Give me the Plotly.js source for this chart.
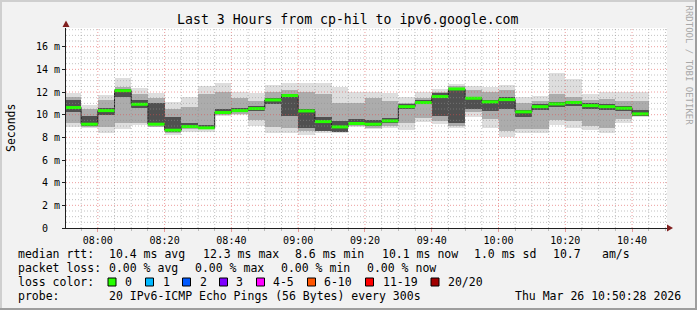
<!DOCTYPE html>
<html><head><meta charset="utf-8">
<script src="https://cdn.plot.ly/plotly-3.0.1.min.js"></script>
<style>html,body{margin:0;padding:0;background:#f2f2f2;} #chart{width:697px;height:310px;}</style>
</head><body><div id="chart"></div>
<script>
// ---- data ----
const binEnds = ['07:55','08:00','08:05','08:10','08:15','08:20','08:25','08:30','08:35','08:40','08:45','08:50',
  '08:55','09:00','09:05','09:10','09:15','09:20','09:25','09:30','09:35','09:40','09:45','09:50',
  '09:55','10:00','10:05','10:10','10:15','10:20','10:25','10:30','10:35','10:40','10:45'];
const median = [10.63,9.16,10.36,12.12,10.92,9.16,8.63,8.95,8.84,10.19,10.36,10.54,11.30,11.69,10.33,9.39,8.92,9.22,
  9.16,9.45,10.71,11.07,11.60,12.27,11.45,11.13,11.33,10.25,10.71,10.95,11.07,10.80,10.71,10.57,10.07];
const smokeMin = [8.87,8.81,8.42,8.75,9.10,8.87,8.22,8.51,8.51,9.90,9.95,9.04,8.37,8.37,8.22,8.37,8.37,8.95,
  8.75,8.81,8.66,9.39,9.16,8.81,9.80,8.81,8.02,8.37,8.37,9.10,8.81,8.66,8.37,9.30,9.78];
const smokeMax = [11.95,10.86,11.74,13.27,12.39,11.89,11.15,11.60,12.54,12.77,12.04,11.95,12.63,12.83,12.83,12.83,12.48,11.98,
  11.98,11.89,11.54,11.98,12.27,12.68,12.54,12.42,12.63,11.54,11.66,13.66,13.13,11.80,11.98,11.98,11.98];
const midLo = [9.3,8.9,8.9,9.3,9.3,8.95,8.4,8.7,8.7,10.0,10.1,9.5,8.9,8.8,8.6,8.6,8.5,9.0,
  8.85,9.0,9.3,9.7,9.4,9.0,10.2,9.6,8.6,8.7,8.7,9.5,9.4,9.0,8.8,9.6,9.9];
const midHi = [11.6,10.5,11.3,12.4,11.8,11.5,10.5,10.7,11.8,12.0,11.5,11.2,12.0,12.2,12.0,11.8,11.0,11.0,
  11.5,11.2,11.0,11.5,12.0,12.5,12.2,12.0,12.2,11.0,11.2,11.8,11.6,11.3,11.4,11.2,11.2];
const coreLo = [10.2,9.0,10.0,11.6,10.6,9.1,8.5,8.8,8.75,10.1,10.2,10.3,10.9,9.9,8.8,8.6,8.5,9.1,
  9.0,9.3,10.5,10.9,9.9,9.3,10.5,10.3,10.5,9.8,10.4,10.7,10.8,10.5,10.4,10.3,9.9];
const coreHi = [11.3,9.9,10.6,12.3,11.3,11.0,9.8,9.3,9.1,10.5,10.6,10.8,11.5,11.8,10.5,9.8,9.4,9.6,
  9.5,9.7,10.9,11.3,11.9,12.3,11.6,11.3,11.6,10.4,10.9,11.1,11.2,11.0,10.9,10.8,10.4];
const yTickVals = [0,2,4,6,8,10,12,14,16];
const yTickText = ['0\u00a0\u00a0','2 m','4 m','6 m','8 m','10 m','12 m','14 m','16 m'];
const lossLabels = ['0','1','2','3','4-5','6-10','11-19','20/20'];
const lossColors = ['#26ff00','#00b8ff','#0059ff','#7e00ff','#ff00ff','#ff5500','#ff0000','#a10000'];
const statsRtt = ['10.4 ms avg','12.3 ms max','8.6 ms min','10.1 ms now','1.0 ms sd','10.7','am/s'];
const statsLoss = ['0.00 % avg','0.00 % max','0.00 % min','0.00 % now'];
const titleText = 'Last 3 Hours from cp-hil to ipv6.google.com';
const probeText = '20 IPv6-ICMP Echo Pings (56 Bytes) every 300s';
const stampText = 'Thu Mar 26 10:50:28 2026';
const startTime = '07:50:28', spanHours = 3, stepSec = 300;

// ---- helpers ----
const day = Date.UTC(2026,2,26);
function tm(s){const p=s.split(':').map(Number);return day+((p[0]*60+p[1])*60+(p[2]||0))*1000;}
const step = stepSec*1000;
const x0 = tm(startTime), x1 = x0 + spanHours*3600000;
const ends = binEnds.map(tm);
const centers = ends.map(e=>e-step/2);
const W=697,H=310,L=66,R=30,T=28,B=82;
const PW=W-L-R, PH=H-T-B;
const xp = px => (px-L)/PW;
const yp = py => (H-B-py)/PH;
const FONT='DejaVu Sans Mono';

function band(lo,hi,color){
  return {type:'bar',x:centers,base:lo,y:hi.map((h,i)=>h-lo[i]),width:ends.map(()=>step),
    marker:{color:color,line:{width:0}},hoverinfo:'skip',showlegend:false};
}
const traces=[band(smokeMin,smokeMax,'#dedede'),band(midLo,midHi,'#acacac'),band(coreLo,coreHi,'#505050')];
// median dark step line
const sx=[],sy=[];
ends.forEach((e,i)=>{sx.push(e-step);sy.push(median[i]);});
sx.push(ends[ends.length-1]);sy.push(median[median.length-1]);
traces.push({type:'scatter',mode:'lines',x:sx,y:sy,line:{shape:'hv',color:'#202020',width:1},hoverinfo:'skip',showlegend:false});
const gx=[],gy=[];
ends.forEach((e,i)=>{gx.push(e-step,e,null);gy.push(median[i],median[i],null);});
traces.push({type:'scatter',mode:'lines',x:gx,y:gy,line:{color:'#26ff00',width:3},hoverinfo:'skip',showlegend:false});

// grid shapes (drawn above data like rrdtool)
const shapes=[];
const minorC='rgba(143,143,143,0.55)', majorC='rgba(222,79,79,0.55)';
for(let t=Math.ceil(x0/step)*step;t<=x1;t+=step){
  const major = ((t-day)%(1200000))===0;
  shapes.push({type:'line',xref:'x',yref:'paper',x0:t,x1:t,y0:0,y1:1,layer:'above',
    line:{color:major?majorC:minorC,width:1,dash:'1px,2px'}});
}
for(let v=0.5;v<17.65;v+=0.5){
  const major = Math.abs(v/2-Math.round(v/2))<1e-6;
  shapes.push({type:'line',xref:'paper',yref:'y',x0:0,x1:1,y0:v,y1:v,layer:'above',
    line:{color:major?majorC:minorC,width:1,dash:'1px,2px'}});
}
// arrows
shapes.push({type:'path',xref:'paper',yref:'paper',layer:'above',
  path:`M ${xp(667)} ${yp(224.5)} L ${xp(673)} ${yp(228)} L ${xp(667)} ${yp(231.5)} Z`,fillcolor:'#801f1f',line:{width:0}});
shapes.push({type:'path',xref:'paper',yref:'paper',layer:'above',
  path:`M ${xp(62.5)} ${yp(27)} L ${xp(66)} ${yp(20.5)} L ${xp(69.5)} ${yp(27)} Z`,fillcolor:'#801f1f',line:{width:0}});
// frame shading
function rectPx(a,b,c,d,col){shapes.push({type:'rect',xref:'paper',yref:'paper',x0:xp(a),x1:xp(b),y0:yp(d),y1:yp(c),fillcolor:col,line:{width:0},layer:'below'});}
rectPx(0,697,0,2,'#cfcfcf');rectPx(0,2,0,310,'#cfcfcf');
rectPx(695,697,0,310,'#9e9e9e');rectPx(0,697,308,310,'#9e9e9e');

// loss swatches
const swX=[108,145.5,182.5,219.5,256.5,307.5,365.5,431];
const swTextX=[123,160.5,197.5,234.5,271,322,381,446];
swX.forEach((x,i)=>rectPx(x,x+8,278,286,lossColors[i]));
swX.forEach((x,i)=>shapes.push({type:'rect',xref:'paper',yref:'paper',x0:xp(x),x1:xp(x+8),y0:yp(286),y1:yp(278),line:{color:'#000',width:1},layer:'above'}));

// annotations
const ann=[];
function txt(s,px,py,opt){ann.push(Object.assign({text:s,xref:'paper',yref:'paper',x:xp(px),y:yp(py),xanchor:'left',yanchor:'middle',
  showarrow:false,font:{family:FONT,size:11.5,color:'#000'}},opt||{}));}
const r1=[16,107.3,201,293.3,380,472.3,551,600];
txt('median rtt:',r1[0],254.3);
statsRtt.forEach((s,i)=>txt(s,r1[i+1],254.3));
const r2=[16,107.3,193.3,279.3,365];
txt('packet loss:',r2[0],268.3);
statsLoss.forEach((s,i)=>txt(s,r2[i+1],268.3));
txt('loss color:',16,282.3);
lossLabels.forEach((s,i)=>txt(s,swTextX[i],282.3));
txt('probe:',16,296.3);
txt(probeText,107.3,296.3);
txt(stampText,513.3,296.3);
txt('Seconds',11,128,{xanchor:'center',textangle:-90});
txt('RRDTOOL / TOBI OETIKER',688.5,65,{xanchor:'center',textangle:90,font:{family:FONT,size:9,color:'#a8a8a8'}});

const layout={
  width:W,height:H,margin:{l:L,r:R,t:T,b:B,pad:0},
  paper_bgcolor:'#f2f2f2',plot_bgcolor:'#ffffff',
  barmode:'overlay',bargap:0,showlegend:false,
  title:{text:titleText,font:{family:FONT,size:13.2,color:'#000'},xref:'container',yref:'container',x:0.499,y:1-19.5/H,xanchor:'center',yanchor:'middle'},
  xaxis:{type:'date',range:[x0,x1],showgrid:false,zeroline:false,showline:true,linecolor:'#1f1f1f',linewidth:1,
    tick0:tm('08:00'),dtick:1200000,tickformat:'%H:%M',ticks:'outside',ticklen:3,tickcolor:majorC,
    tickfont:{family:FONT,size:10,color:'#000'},fixedrange:true,
    minor:{dtick:step,ticks:'outside',ticklen:2,tickcolor:minorC,showgrid:false}},
  yaxis:{range:[0,17.65],showgrid:false,zeroline:false,showline:true,linecolor:'#1f1f1f',linewidth:1,
    tickvals:yTickVals,ticktext:yTickText,ticks:'outside',ticklen:3,tickcolor:'#1f1f1f',
    tickfont:{family:FONT,size:10,color:'#000'},fixedrange:true},
  shapes:shapes,annotations:ann
};
Plotly.newPlot('chart',traces,layout,{displayModeBar:false,staticPlot:true});
</script></body></html>
